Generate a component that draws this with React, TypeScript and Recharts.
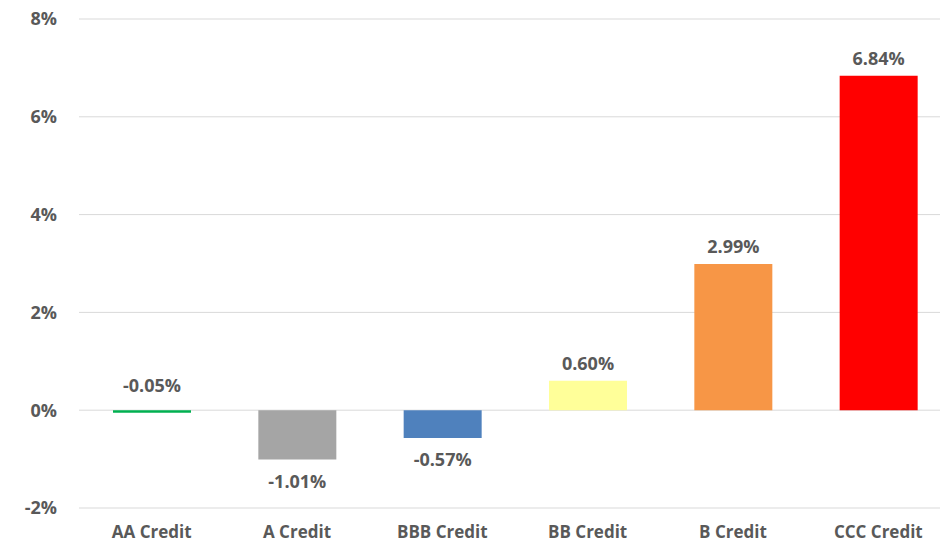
import { Bar, BarChart, CartesianGrid, Cell, LabelList, XAxis, YAxis } from "recharts";

const categories = ["AA Credit", "A Credit", "BBB Credit", "BB Credit", "B Credit", "CCC Credit"];
const returns = [-0.05, -1.01, -0.57, 0.6, 2.99, 6.84];
const barColors = ["#00B050", "#A5A5A5", "#4F81BD", "#FFFF99", "#F79646", "#FF0000"];
const yTicks = [-2, 0, 2, 4, 6, 8];

const data = categories.map((name, i) => ({ name, value: returns[i] }));

const TEXT = "#595959";
const FONT = "'Open Sans', sans-serif";

// Excel-style "outside end" labels; the tiny AA bar keeps its label above the zero line
const renderLabel = (props: any) => {
  const { x, y, width, height, value } = props;
  const top = Math.min(y, y + height);
  const bottom = Math.max(y, y + height);
  const below = value < -0.1;
  return (
    <text
      x={x + width / 2}
      y={below ? bottom + 28 : top - (value < 0 ? 18 : 11)}
      textAnchor="middle"
      fill={TEXT}
      fontSize={18}
      fontWeight={700}
      fontFamily={FONT}
    >
      {`${Number(value).toFixed(2)}%`}
    </text>
  );
};

export default function App() {
  return (
    <div style={{ position: "absolute", left: 0, top: 0, width: 940, height: 545, overflow: "hidden", background: "#fff" }}>
      <BarChart width={951} height={545} data={data} margin={{ top: 19, right: 0, left: 0, bottom: 0 }} barSize={78}>
        <CartesianGrid vertical={false} stroke="#D9D9D9" />
        <XAxis
          dataKey="name"
          axisLine={false}
          tickLine={false}
          tickSize={0}
          tickMargin={18}
          height={37}
          interval={0}
          tick={{ fill: TEXT, fontSize: 17, fontWeight: 700, fontFamily: FONT }}
        />
        <YAxis
          domain={[-2, 8]}
          ticks={yTicks}
          axisLine={false}
          tickLine={false}
          tickSize={0}
          tickMargin={22}
          width={79}
          tickFormatter={(v) => `${v}%`}
          tick={{ fill: TEXT, fontSize: 18, fontWeight: 700, fontFamily: FONT }}
        />
        <Bar dataKey="value" isAnimationActive={false}>
          {data.map((d, i) => (
            <Cell key={d.name} fill={barColors[i]} />
          ))}
          <LabelList dataKey="value" content={renderLabel} />
        </Bar>
      </BarChart>
    </div>
  );
}
